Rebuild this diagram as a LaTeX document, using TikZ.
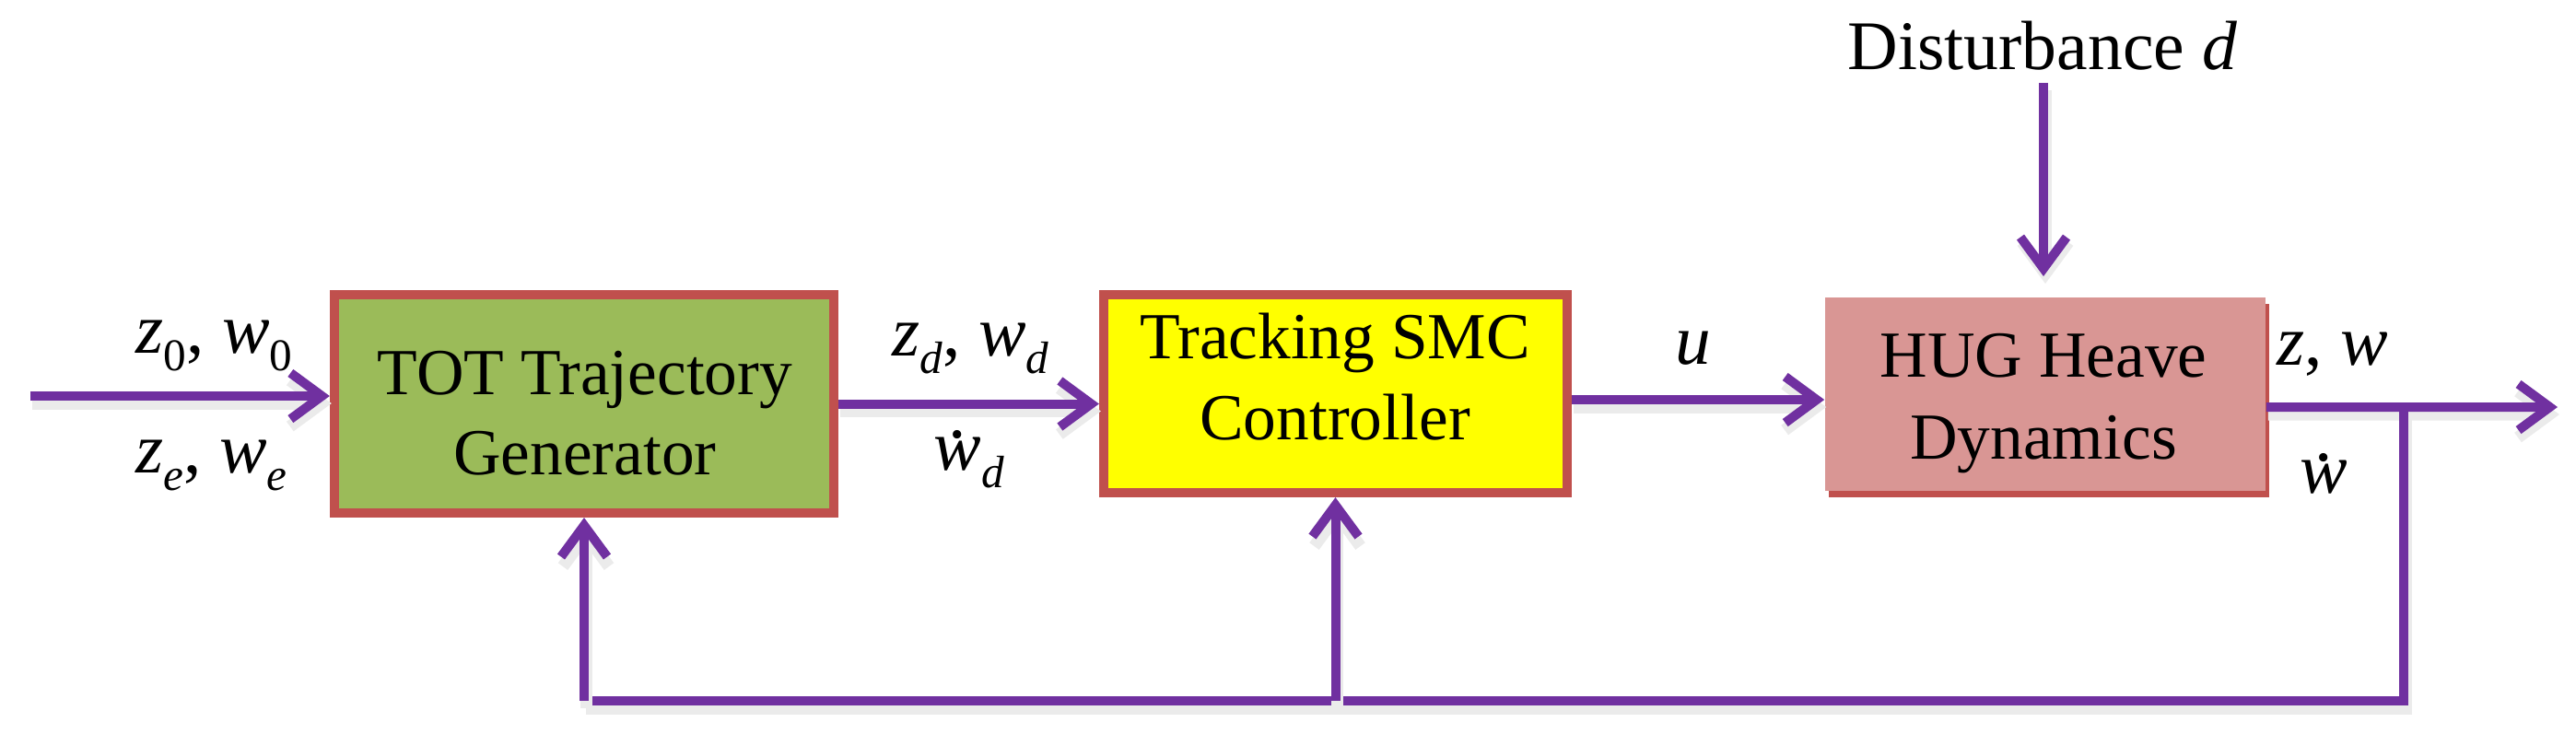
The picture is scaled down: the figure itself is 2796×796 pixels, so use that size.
\documentclass[tikz,border=0pt]{standalone}
\usepackage{fontspec}
\setmainfont{Liberation Serif}
\newfontfamily\tnr{Liberation Serif}
\usetikzlibrary{arrows.meta}
\definecolor{sigpurple}{RGB}{112,48,160}
\definecolor{boxred}{RGB}{192,80,77}
\definecolor{boxgreen}{RGB}{155,187,89}
\definecolor{boxpink}{RGB}{217,150,148}
\definecolor{boxyellow}{RGB}{255,255,0}
\newcommand\sbx[1]{\raisebox{-0.25em}{\fontsize{14}{14}\selectfont #1}}
\newcommand\mydot[1]{\leavevmode\setbox0=\hbox{#1}\hbox to \wd0{\hfil\raisebox{0.45em}{\upshape.}\hfil}\kern-\wd0\box0}
\begin{document}
\begin{tikzpicture}[x=0.01cm,y=-0.01cm,
  shad/.style={preaction={draw=black!8, line width=0.13cm, transform canvas={xshift=0.02cm,yshift=-0.08cm}}},
  sig/.style={draw=sigpurple, line width=0.1cm, shad, -{Straight Barb[length=0.34cm,width=0.5cm]}},
  fbline/.style={draw=sigpurple, line width=0.1cm, shad},
  boxtxt/.style={font=\tnr\fontsize{20.3}{24}\selectfont, inner sep=0pt, anchor=base},
  lbl/.style={font=\tnr\fontsize{22}{26}\selectfont, inner sep=0pt, anchor=base west},
  blk/.style={draw=boxred, line width=0.1cm, inner sep=0pt}]
\useasboundingbox (0,0) rectangle (2796,796);

% blocks
\node[blk, fill=boxgreen, minimum width=5.42cm, minimum height=2.37cm] (tot) at (634,438.5) {};
\node[blk, fill=boxyellow, minimum width=5.03cm, minimum height=2.15cm] (smc) at (1449.5,427.5) {};
\node[fill=boxpink, inner sep=0pt, minimum width=4.78cm, minimum height=2.10cm,
      preaction={fill=boxred, transform canvas={xshift=0.04cm,yshift=-0.07cm}}] (hug) at (2220,428) {};

% block texts
\node[boxtxt] (tot1) at (635,428) {TOT Trajectory};
\node[boxtxt] (tot2) at (635,515) {Generator};
\node[boxtxt] (smc1) at (1449,389) {Tracking SMC};
\node[boxtxt] (smc2) at (1449,477) {Controller};
\node[boxtxt] (hug1) at (2218,409) {HUG Heave};
\node[boxtxt] (hug2) at (2218,498) {Dynamics};

% signal labels
\node[lbl] (lzo) at (147,383) {\textit{z}\sbx{0}, \textit{w}\sbx{0}};
\node[lbl] (lze) at (147,513) {\textit{z}\sbx{\textit{e}}, \textit{w}\sbx{\textit{e}}};
\node[lbl] (lzd) at (968,386) {\textit{z}\sbx{\textit{d}}, \textit{w}\sbx{\textit{d}}};
\node[lbl] (lwd) at (1013,510) {\mydot{\textit{w}}\sbx{\textit{d}}};
\node[lbl, anchor=base] (lu) at (1838,395) {\textit{u}};
\node[lbl] (lzw) at (2471,396) {\textit{z}, \textit{w}};
\node[lbl] (lwdot) at (2496,535) {\mydot{\textit{w}}};
\node[font=\tnr\fontsize{21.5}{26}\selectfont, inner sep=0pt, anchor=base] (dist) at (2217,75) {Disturbance \textit{d}};

% coordinates for free ends
\coordinate (in) at (33,430);
\coordinate (dtop) at (2218,90);
\coordinate (dtip) at (2218,300);
\coordinate (s2) at ([yshift=-0.065cm]smc.east);
\coordinate (o1) at ([yshift=-0.14cm]hug.east);
\coordinate (out) at (2776,442);
\coordinate (fbr) at (2609,442);
\coordinate (fbd) at (2609,761);

% connectors
\draw[sig] (in) -- (in -| tot.west);
\draw[sig] (tot.east) -- (tot.east -| smc.west);
\draw[sig] (s2) -- (s2 -| hug.west);
\draw[sig] (o1) -- (out);
\draw[sig] (dtop) -- (dtip);
\draw[fbline] (fbr) -- (fbd) -- (fbd -| tot.south);
\draw[sig] (fbd -| tot.south) -- (tot.south);
\draw[sig] (fbd -| smc.south) -- (smc.south);
\end{tikzpicture}
\end{document}
